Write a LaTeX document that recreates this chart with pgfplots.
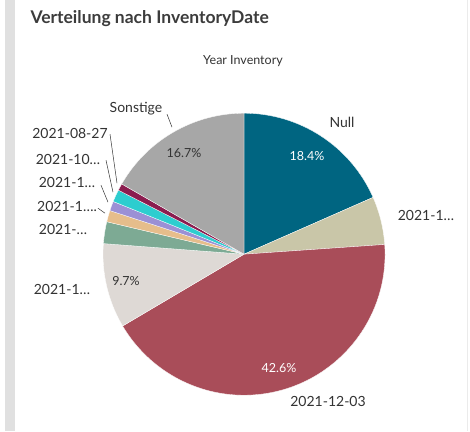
\documentclass[border=0pt]{standalone}
\usepackage{pgfplots}
\pgfplotsset{compat=1.18}
\usepackage{pgfplotstable}
\usepackage{fontspec}
\setmainfont{Lato}

\definecolor{cNull}{HTML}{006581}
\definecolor{cBeige}{HTML}{C9C6A8}
\definecolor{cRed}{HTML}{A94D59}
\definecolor{cLight}{HTML}{DED9D5}
\definecolor{cGreen}{HTML}{7DAA94}
\definecolor{cTan}{HTML}{E6BD8B}
\definecolor{cPurple}{HTML}{9B90D5}
\definecolor{cCyan}{HTML}{2DCDCF}
\definecolor{cMag}{HTML}{8B1D4F}
\definecolor{cOther}{HTML}{A7A7A7}
\definecolor{txt}{HTML}{333333}
\definecolor{ttl}{HTML}{3C3C3C}

% slices clockwise from 12 o'clock, values in percent
\pgfplotstableread[col sep=comma]{
name,value,col
Null,18.4,cNull
2021-1...,5.5,cBeige
2021-12-03,42.6,cRed
2021-1...,9.7,cLight
2021-...,2.5,cGreen
2021-1....,1.3,cTan
2021-1...,1.1,cPurple
2021-10...,1.4,cCyan
2021-08-27,0.8,cMag
Sonstige,16.7,cOther
}\slices

\begin{document}
\begin{tikzpicture}
\begin{axis}[
    width=470pt, height=431pt, scale only axis,
    xmin=0, xmax=470, ymin=0, ymax=431,
    y dir=reverse, hide axis, clip=false,
]
\fill[white] (axis cs:0,0) rectangle (axis cs:470,431);
\fill[black!12] (axis cs:5,0) rectangle (axis cs:15,431);
\draw[black!8] (axis cs:467,0) -- (axis cs:467,431);

\pgfplotstablegetrowsof{\slices}
\pgfmathtruncatemacro\nrows{\pgfplotsretval-1}
\def\cum{0}
\pgfplotsforeachungrouped \i in {0,...,\nrows}{
  \pgfplotstablegetelem{\i}{value}\of\slices \let\sv\pgfplotsretval
  \pgfplotstablegetelem{\i}{col}\of\slices \let\scol\pgfplotsretval
  \pgfmathsetmacro\sa{90-3.6*\cum}
  \pgfmathsetmacro\sb{90-3.6*(\cum+\sv)}
  \edef\tmp{\noexpand\fill[\scol, draw=white, line width=0.3pt]
    (axis cs:244,254) -- ++(\sa:141pt) arc[start angle=\sa, end angle=\sb, radius=141pt] -- cycle;}
  \tmp
  \pgfmathsetmacro\cum{\cum+\sv}
}

% title
\node[anchor=west, text=ttl, font=\fontsize{17.5}{20}\selectfont\bfseries] at (axis cs:27,18) {Verteilung nach InventoryDate};
\node[text=txt, font=\fontsize{12.5}{14}\selectfont] at (axis cs:243,61) {Year Inventory};

% leader lines
\draw[txt, line width=0.5pt] (axis cs:167,114) -- (axis cs:172,127);
\draw[txt, line width=0.5pt] (axis cs:110,134) -- (axis cs:117,183);
\draw[txt, line width=0.5pt] (axis cs:106,160) -- (axis cs:113,192);
\draw[txt, line width=0.5pt] (axis cs:101,185) -- (axis cs:108,202);
\draw[txt, line width=0.5pt] (axis cs:98,208) -- (axis cs:105,213);

% outer labels
\begin{scope}[every node/.style={text=txt, font=\fontsize{14}{16}\selectfont, inner sep=0pt}]
\node at (axis cs:136,108) {Sonstige};
\node at (axis cs:70,133) {2021-08-27};
\node at (axis cs:68,159) {2021-10\dots};
\node at (axis cs:67,182) {2021-1\dots};
\node at (axis cs:67,206) {2021-1\dots.};
\node at (axis cs:63,229) {2021-\dots};
\node at (axis cs:62,289) {2021-1\dots};
\node at (axis cs:342,122) {Null};
\node at (axis cs:426,215) {2021-1\dots};
\node at (axis cs:328,401) {2021-12-03};
\end{scope}

% percentages inside
\begin{scope}[every node/.style={font=\fontsize{12.5}{14}\selectfont, inner sep=0pt}]
\node[text=white] at (axis cs:307,156) {18.4\%};
\node[text=txt] at (axis cs:184,153) {16.7\%};
\node[text=txt] at (axis cs:126,281) {9.7\%};
\node[text=white] at (axis cs:279,368) {42.6\%};
\end{scope}
\end{axis}
\end{tikzpicture}
\end{document}
